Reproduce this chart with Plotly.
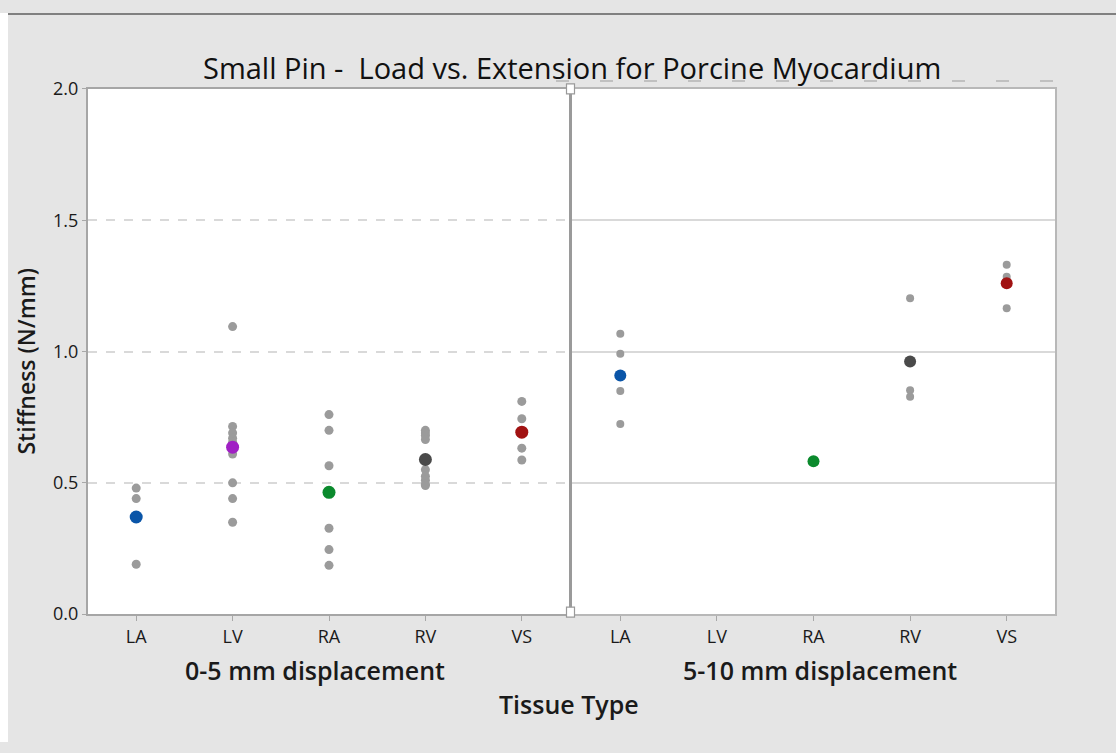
import plotly.graph_objects as go

W, H = 1116, 753

categories = ["LA", "LV", "RA", "RV", "VS"]

# 0-5 mm displacement: individual stiffness values (N/mm)
low_LA = [0.48, 0.44, 0.19]
low_LV = [1.095, 0.715, 0.69, 0.67, 0.655, 0.61, 0.50, 0.44, 0.35]
low_RA = [0.76, 0.70, 0.565, 0.327, 0.246, 0.186]
low_RV = [0.70, 0.69, 0.68, 0.665, 0.55, 0.525, 0.51, 0.495, 0.49]
low_VS = [0.81, 0.744, 0.632, 0.587]
low_means = [0.37, 0.636, 0.464, 0.589, 0.693]

# 5-10 mm displacement
high_LA = [1.068, 0.992, 0.85, 0.724]
high_LV = []
high_RA = [0.582]
high_RV = [1.203, 0.853, 0.828]
high_VS = [1.33, 1.285, 1.27, 1.165]
high_means = [0.909, None, 0.582, 0.962, 1.26]

mean_colors = ["#0a55a8", "#a020c4", "#0b8a2d", "#4a4a4a", "#a11212"]
grey = "#9b9b9b"

low_sets = [low_LA, low_LV, low_RA, low_RV, low_VS]
high_sets = [high_LA, high_LV, high_RA, high_RV, high_VS]

def px_x(p):
    return p / W

# vertical placement (compensates the observed vertical fit of the page)
Y0, YH = 11.0, 730.0
def px_y(p):
    return 1 - (p - Y0) / YH

fig = go.Figure()

for sets, means, xa, ya, gsz, msz in [(low_sets, low_means, "x", "y", 9, 13),
                                      (high_sets, high_means, "x2", "y2", 8, 12)]:
    xs, ys = [], []
    for cat, vals in zip(categories, sets):
        xs += [cat] * len(vals)
        ys += vals
    fig.add_trace(go.Scatter(x=xs, y=ys, mode="markers", xaxis=xa, yaxis=ya,
                             marker=dict(color=grey, size=gsz, line=dict(width=0)),
                             showlegend=False, hoverinfo="x+y"))
    mx, my, mc = [], [], []
    for cat, m, c in zip(categories, means, mean_colors):
        if m is not None:
            mx.append(cat); my.append(m); mc.append(c)
    fig.add_trace(go.Scatter(x=mx, y=my, mode="markers", xaxis=xa, yaxis=ya,
                             marker=dict(color=mc, size=msz, line=dict(width=0)),
                             showlegend=False, hoverinfo="x+y"))

tickfont = dict(family="Open Sans", size=18, color="#1a1a1a")
xcommon = dict(type="category", categoryorder="array", categoryarray=categories,
               range=[-0.5, 4.5], showgrid=False, ticks="outside", ticklen=5,
               tickcolor="#a8a8a8", tickfont=tickfont, showline=True, mirror=True,
               zeroline=False, fixedrange=True)

ydom = [px_y(613), px_y(87)]

fig.update_layout(
    width=W, height=H,
    margin=dict(l=0, r=0, t=0, b=0),
    paper_bgcolor="#e5e5e5",
    plot_bgcolor="#ffffff",
    xaxis=dict(domain=[px_x(88), px_x(570)], anchor="y", linecolor="#a6a6a6", linewidth=2,
               **xcommon),
    xaxis2=dict(domain=[px_x(572), px_x(1055)], anchor="y2", linecolor="#b8b8b8", linewidth=2,
                **xcommon),
    yaxis=dict(domain=ydom, range=[0, 2], tickvals=[0, 0.5, 1.0, 1.5, 2.0],
               ticktext=["0.0", "0.5", "1.0", "1.5", "2.0"], tickfont=tickfont,
               ticks="outside", ticklen=4, tickcolor="#a8a8a8",
               showgrid=True, gridcolor="#d9d9d9", gridwidth=1.5, griddash="dash",
               showline=True, linecolor="#a6a6a6", linewidth=2, zeroline=False,
               fixedrange=True),
    yaxis2=dict(domain=ydom, range=[0, 2], anchor="x2", tickvals=[0, 0.5, 1.0, 1.5, 2.0],
                showticklabels=False, ticks="",
                showgrid=True, gridcolor="#d9d9d9", gridwidth=1.5,
                showline=True, mirror=True, linecolor="#b8b8b8", linewidth=2,
                zeroline=False, fixedrange=True),
    font=dict(family="Open Sans", color="#1a1a1a"),
    hovermode="closest",
)

shapes = []
# white strip at left, dark top rule
shapes.append(dict(type="rect", xref="paper", yref="paper", x0=0, x1=px_x(8), y0=0, y1=1,
                   fillcolor="#ffffff", line=dict(width=0), layer="below"))
shapes.append(dict(type="line", xref="paper", yref="paper", x0=px_x(8), x1=1,
                   y0=px_y(12), y1=px_y(12), line=dict(color="#808080", width=2)))
# faint dashed line under the title
shapes.append(dict(type="line", xref="paper", yref="paper", x0=px_x(556), x1=px_x(1057),
                   y0=px_y(79), y1=px_y(79), line=dict(color="#b4b4b4", width=1.5, dash="13px,31px")))
# panel divider
shapes.append(dict(type="line", xref="paper", yref="paper", x0=px_x(570.5), x1=px_x(570.5),
                   y0=px_y(613), y1=px_y(87), line=dict(color="#9a9a9a", width=3)))
for yc in (87, 611):
    shapes.append(dict(type="rect", xref="paper", yref="paper",
                       x0=px_x(566.5), x1=px_x(574.5), y0=px_y(yc + 5), y1=px_y(yc - 5),
                       fillcolor="#ffffff", line=dict(color="#9a9a9a", width=1.2)))
fig.update_layout(shapes=shapes)

annotations = [
    dict(text="Small Pin -  Load vs. Extension for Porcine Myocardium", x=px_x(572), y=px_y(66),
         xref="paper", yref="paper", showarrow=False, xanchor="center", yanchor="middle",
         font=dict(family="Open Sans", size=29, color="#111111")),
    dict(text="Stiffness (N/mm)", x=px_x(26), y=px_y(360), textangle=-90,
         xref="paper", yref="paper", showarrow=False, xanchor="center", yanchor="middle",
         font=dict(family="Open Sans", size=23, color="#1a1a1a", weight=600)),
    dict(text="0-5 mm displacement", x=px_x(315), y=px_y(669),
         xref="paper", yref="paper", showarrow=False, xanchor="center", yanchor="middle",
         font=dict(family="Open Sans", size=25, color="#1a1a1a", weight=600)),
    dict(text="5-10 mm displacement", x=px_x(820), y=px_y(669),
         xref="paper", yref="paper", showarrow=False, xanchor="center", yanchor="middle",
         font=dict(family="Open Sans", size=25, color="#1a1a1a", weight=600)),
    dict(text="Tissue Type", x=px_x(569), y=px_y(703),
         xref="paper", yref="paper", showarrow=False, xanchor="center", yanchor="middle",
         font=dict(family="Open Sans", size=25, color="#1a1a1a", weight=600)),
]
fig.update_layout(annotations=annotations)

fig.write_html("out.html")
